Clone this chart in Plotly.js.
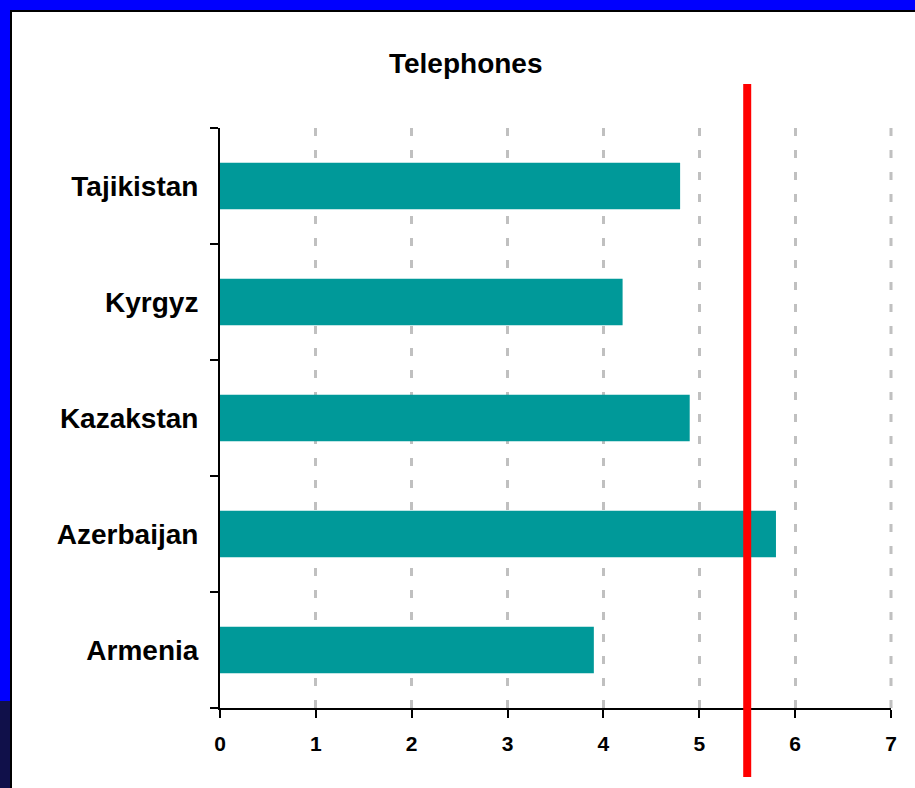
<!DOCTYPE html>
<html>
<head>
<meta charset="utf-8">
<script src="https://cdn.plot.ly/plotly-3.0.1.min.js"></script>
<style>
  html, body { margin: 0; padding: 0; background: #ffffff; width: 915px; height: 788px; overflow: hidden; }
  .fr { position: absolute; }
  #chart { position: absolute; left: 0; top: 0; width: 915px; height: 788px; }
</style>
</head>
<body>
<div class="fr" style="left:0;top:0;width:915px;height:10px;background:#0000ff"></div>
<div class="fr" style="left:0;top:10px;width:915px;height:2px;background:#000000"></div>
<div class="fr" style="left:0;top:0;width:10px;height:701px;background:#0000ff"></div>
<div class="fr" style="left:0;top:701px;width:10px;height:87px;background:#10104a"></div>
<div class="fr" style="left:10px;top:10px;width:2px;height:778px;background:#000000"></div>
<div id="chart"></div>
<script>
// Data (bottom to top as drawn)
const countries = ["Armenia", "Azerbaijan", "Kazakstan", "Kyrgyz", "Tajikistan"];
const telephones = [3.9, 5.8, 4.9, 4.2, 4.8];
const threshold = 5.5;
const xTicks = [0, 1, 2, 3, 4, 5, 6, 7];
const xMax = 7;
const chartTitle = "Telephones";

const fontFam = "Liberation Sans, Arial, sans-serif";
const gridDash = "8px,14px";

const trace = {
  type: "bar",
  orientation: "h",
  y: countries,
  x: telephones,
  marker: { color: "#009999", line: { width: 0 } },
  hoverinfo: "x+y"
};

const layout = {
  width: 915,
  height: 788,
  margin: { l: 220, r: 24, t: 128, b: 80, pad: 0 },
  paper_bgcolor: "rgba(0,0,0,0)",
  plot_bgcolor: "rgba(0,0,0,0)",
  showlegend: false,
  bargap: 0.6,
  title: {
    text: chartTitle,
    font: { family: fontFam, size: 28, color: "#000000", weight: "bold" },
    x: 0.509, xref: "container", xanchor: "center",
    y: 1 - 63 / 788, yref: "container", yanchor: "middle"
  },
  xaxis: {
    range: [0, xMax],
    tickvals: xTicks,
    ticktext: xTicks.map(String),
    showline: true, linecolor: "#000000", linewidth: 2,
    ticks: "outside", ticklen: 8, tickwidth: 2, tickcolor: "#000000",
    showgrid: true, gridcolor: "#c0c0c0", gridwidth: 3, griddash: gridDash,
    zeroline: false,
    ticklabelstandoff: 8,
    tickfont: { family: fontFam, size: 21, color: "#000000", weight: "bold" },
    fixedrange: true
  },
  yaxis: {
    range: [-0.5, 4.5],
    type: "category",
    showline: true, linecolor: "#000000", linewidth: 2,
    ticks: "outside", ticklen: 8, tickwidth: 2, tickcolor: "#000000",
    tickson: "boundaries",
    showgrid: false, zeroline: false,
    ticklabelstandoff: 14,
    tickfont: { family: fontFam, size: 28, color: "#000000", weight: "bold" },
    fixedrange: true
  },
  shapes: [
    {
      // gridline at the right end of the axis range (Plotly omits it there)
      type: "line",
      xref: "paper", x0: 1, x1: 1,
      yref: "paper", y0: 0, y1: 1,
      line: { color: "#c0c0c0", width: 3, dash: gridDash },
      layer: "below"
    },
    {
      type: "line",
      xref: "x", x0: threshold, x1: threshold,
      yref: "paper", y0: -69 / 580, y1: 1 + 44 / 580,
      line: { color: "#ff0000", width: 8 },
      layer: "above"
    }
  ]
};

Plotly.newPlot("chart", [trace], layout, { displayModeBar: false, staticPlot: true });
</script>
</body>
</html>
